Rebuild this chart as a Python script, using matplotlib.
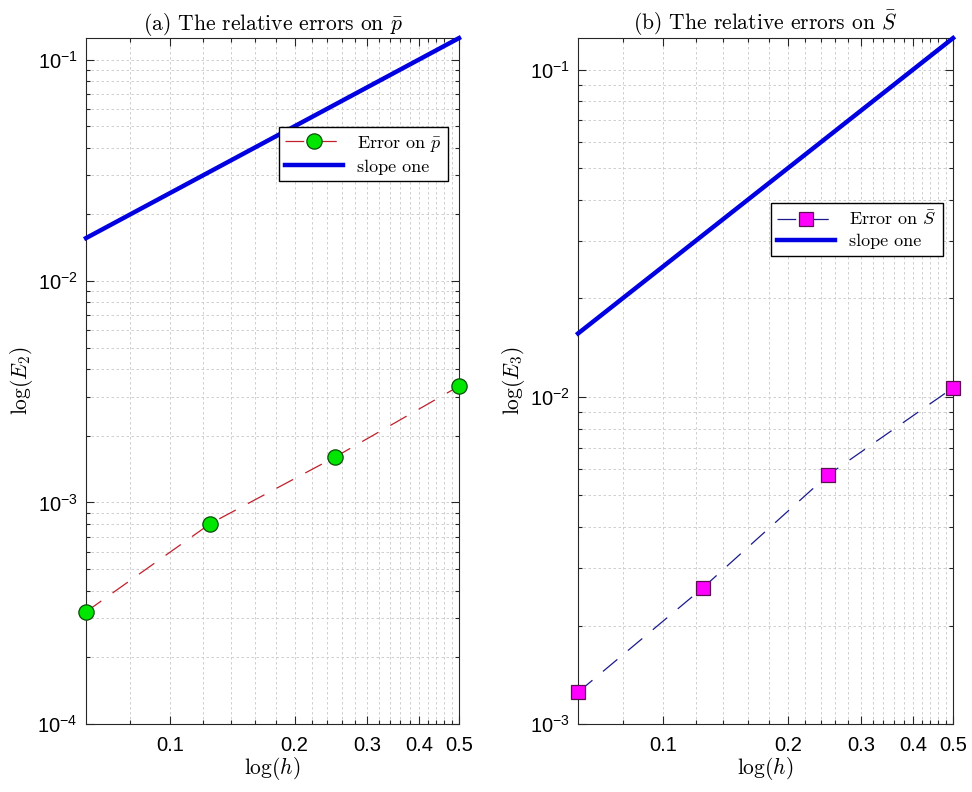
import numpy as np
import matplotlib
matplotlib.use('Agg')
import matplotlib.pyplot as plt
from matplotlib.font_manager import FontProperties
from matplotlib.ticker import FixedLocator, NullFormatter

plt.rcParams['font.family'] = 'Liberation Sans'
plt.rcParams['mathtext.fontset'] = 'custom'
plt.rcParams['mathtext.rm'] = 'Liberation Sans'
plt.rcParams['mathtext.it'] = 'Liberation Sans:italic'

# mesh sizes and errors
h = [1/16, 1/8, 1/4, 1/2]
err_p = [3.21e-4, 8.03e-4, 1.60e-3, 3.35e-3]
err_S = [1.25e-3, 2.61e-3, 5.77e-3, 1.066e-2]
slope = [x / 4 for x in h]

xticks = [0.1, 0.2, 0.3, 0.4, 0.5]
xticklabels = ['0.1', '0.2', '0.3', '0.4', '0.5']
xminor = [0.08, 0.12, 0.14, 0.16, 0.18] + list(np.arange(0.22, 0.5, 0.02))

cm_leg = FontProperties(family='cmr10', math_fontfamily='cm', size=13)
cm_title = FontProperties(family='cmr10', math_fontfamily='cm', size=15.5)

fig = plt.figure(figsize=(9.72, 7.92), dpi=100)
ax1 = fig.add_axes([0.0885, 0.0859, 0.3837, 0.866])
ax2 = fig.add_axes([0.5947, 0.0859, 0.3858, 0.866])

def style(ax, yticks, ylabels, ylim):
    ax.set_xscale('log')
    ax.set_yscale('log')
    ax.set_xlim(1/16, 0.5)
    ax.set_ylim(*ylim)
    ax.xaxis.set_major_locator(FixedLocator(xticks))
    ax.set_xticklabels(xticklabels)
    ax.xaxis.set_minor_locator(FixedLocator(xminor))
    ax.xaxis.set_minor_formatter(NullFormatter())
    ax.set_yticks(yticks)
    ax.set_yticklabels(ylabels)
    ymin = []
    for d in yticks:
        ymin += [d * k for k in range(2, 10)]
    ax.yaxis.set_minor_locator(FixedLocator(ymin))
    ax.yaxis.set_minor_formatter(NullFormatter())
    ax.tick_params(which='both', direction='in', top=True, right=True, labelsize=14.5, width=0.8, color='#262626')
    ax.tick_params(which='major', length=6)
    ax.tick_params(which='minor', length=3)
    ax.tick_params(axis='x', which='major', pad=9)
    ax.tick_params(axis='y', which='major', pad=6)
    ax.grid(True, which='both', linestyle=(0, (3, 3)), color='#c8c8c8', linewidth=0.6)
    for s in ax.spines.values():
        s.set_linewidth(0.8)
        s.set_color('#262626')
    ax.set_xlabel(r'$\log(h)$', fontsize=15.5, math_fontfamily='cm', labelpad=0)

ax1.plot(h, err_p, linestyle=(0, (15, 11)), color='#c0202a', linewidth=0.9,
         marker='o', markersize=11, markerfacecolor='#00e600', markeredgecolor='#0a4d0a',
         markeredgewidth=0.9, label=r'Error on $\bar{p}$', clip_on=False, zorder=4)
ax1.plot(h, slope, color='#0000e0', linewidth=3.2, label='slope one', clip_on=False, zorder=3)
style(ax1, [1e-4, 1e-3, 1e-2, 1e-1], [r'$10^{-4}$', r'$10^{-3}$', r'$10^{-2}$', r'$10^{-1}$'], (1e-4, 0.125))
ax1.set_ylabel(r'$\log(E_2)$', fontsize=15.5, math_fontfamily='cm', labelpad=2)
ax1.set_title(r'(a) The relative errors on $\bar{p}$', fontproperties=cm_title, pad=3)
ax1.legend(loc='upper right', bbox_to_anchor=(0.9705, 0.870), prop=cm_leg, fancybox=False,
           edgecolor='black', framealpha=1, borderaxespad=0, handlelength=3.2,
           borderpad=0.35, labelspacing=0.3)

ax2.plot(h, err_S, linestyle=(0, (15, 11)), color='#1a1a8c', linewidth=0.9,
         marker='s', markersize=10.5, markerfacecolor='#ff00ff', markeredgecolor='#5a1050',
         markeredgewidth=0.9, label=r'Error on $\bar{S}$', clip_on=False, zorder=4)
ax2.plot(h, slope, color='#0000e0', linewidth=3.2, label='slope one', clip_on=False, zorder=3)
style(ax2, [1e-3, 1e-2, 1e-1], [r'$10^{-3}$', r'$10^{-2}$', r'$10^{-1}$'], (1e-3, 0.125))
ax2.set_ylabel(r'$\log(E_3)$', fontsize=15.5, math_fontfamily='cm', labelpad=2)
ax2.set_title(r'(b) The relative errors on $\bar{S}$', fontproperties=cm_title, pad=3)
ax2.legend(loc='upper right', bbox_to_anchor=(0.973, 0.7595), prop=cm_leg, fancybox=False,
           edgecolor='black', framealpha=1, borderaxespad=0, handlelength=3.2,
           borderpad=0.35, labelspacing=0.3)

fig.savefig('out.png', dpi=100)
